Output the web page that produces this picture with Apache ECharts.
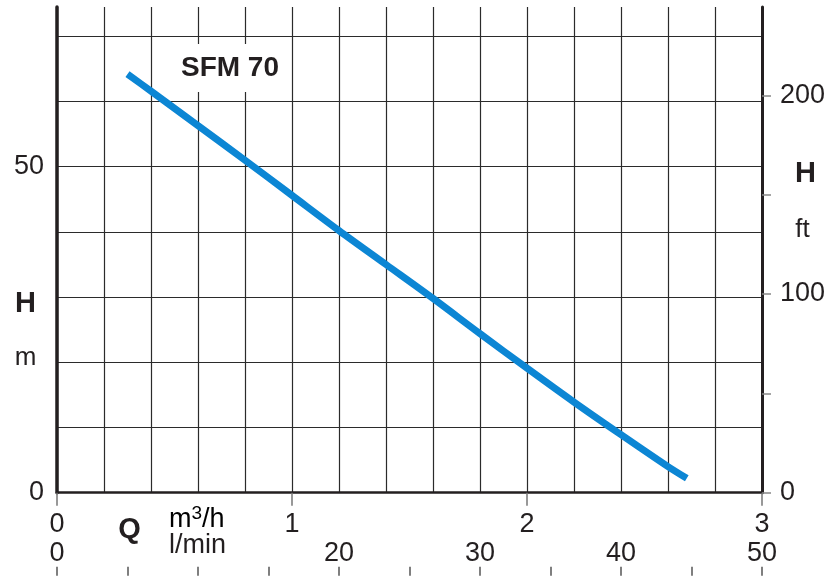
<!DOCTYPE html>
<html>
<head>
<meta charset="utf-8">
<script src="https://cdn.jsdelivr.net/npm/echarts@6/dist/echarts.min.js"></script>
<style>
html,body{margin:0;padding:0;background:#fff;}
#chart{width:830px;height:576px;}
</style>
</head>
<body>
<div id="chart"></div>
<script>
// ---- data ----
const flowM3h = [0.30, 0.40, 0.60, 0.80, 1.00, 1.20, 1.40, 1.60, 1.80, 2.00, 2.20, 2.40, 2.60, 2.68];
const headM   = [64.2, 61.6, 56.3, 51.0, 45.6, 40.2, 35.0, 29.8, 24.4, 19.1, 13.9, 8.9, 4.0, 2.2];
const seriesName = 'SFM 70';
const m3hLabels = [0, 1, 2, 3];
const lminLabels = [0, 20, 30, 40, 50];
const mLabels = [0, 50];
const ftLabels = [0, 100, 200];
const ftTicks = [0, 50, 100, 150, 200];

const H_MAX_M = 74.5;
const M_TO_FT = 3.28084;

const FONT = 'Liberation Sans, Arial, sans-serif';
const INK = '#231f20';
const GRID = '#2b2b2b';

const chart = echarts.init(document.getElementById('chart'), null, {renderer: 'canvas'});

const curve = flowM3h.map((q, i) => [q, headM[i]]);

const option = {
  animation: false,
  backgroundColor: '#fff',
  grid: {left: 57, right: 68, top: 7, bottom: 83.3, containLabel: false},
  xAxis: [
    {
      type: 'value', min: 0, max: 3, interval: 1, position: 'bottom',
      axisLine: {show: true, onZero: false, lineStyle: {color: INK, width: 2.5}},
      axisTick: {show: true, length: 13, lineStyle: {color: '#777', width: 1.5}},
      axisLabel: {
        show: true, margin: 18, fontSize: 27, color: INK, fontFamily: FONT,
        customValues: m3hLabels
      },
      splitLine: {show: true, lineStyle: {color: GRID, width: 1.2}},
      minorTick: {show: false, splitNumber: 5},
      minorSplitLine: {show: true, lineStyle: {color: GRID, width: 1.2}}
    },
    {
      type: 'value', min: 0, max: 50, interval: 5, position: 'bottom', offset: 83,
      axisLine: {show: false, onZero: false},
      axisTick: {show: true, inside: true, length: 9, lineStyle: {color: '#555', width: 1.5}},
      axisLabel: {
        show: true, inside: true, margin: 9, fontSize: 27, color: INK, fontFamily: FONT,
        customValues: lminLabels
      },
      splitLine: {show: false}
    }
  ],
  yAxis: [
    {
      type: 'value', min: 0, max: H_MAX_M, interval: 10, position: 'left',
      axisLine: {show: true, onZero: false, lineStyle: {color: INK, width: 3.5}},
      axisTick: {show: false},
      axisLabel: {
        show: true, margin: 13, fontSize: 27, color: INK, fontFamily: FONT,
        padding: [6, 0, 0, 0],
        customValues: mLabels
      },
      splitLine: {show: true, showMaxLine: false, lineStyle: {color: GRID, width: 1.2}}
    },
    {
      type: 'value', min: 0, max: H_MAX_M * M_TO_FT, position: 'right',
      axisLine: {show: true, onZero: false, lineStyle: {color: INK, width: 3}},
      axisTick: {show: true, length: 9, customValues: ftTicks, lineStyle: {color: '#888', width: 1.5}},
      axisLabel: {
        show: true, margin: 18, fontSize: 27, color: INK, fontFamily: FONT,
        padding: [4, 0, 0, 0],
        customValues: ftLabels
      },
      splitLine: {show: false}
    }
  ],
  graphic: [
    {type: 'text', x: 230, y: 68, z: 10,
     style: {text: seriesName, font: 'bold 28px ' + FONT, fill: INK, align: 'center', verticalAlign: 'middle',
             backgroundColor: '#fff', padding: [10, 10]}},
    {type: 'text', x: 25.5, y: 304, z: 10,
     style: {text: 'H', font: 'bold 29px ' + FONT, fill: INK, align: 'center', verticalAlign: 'middle'}},
    {type: 'text', x: 25.5, y: 358, z: 10,
     style: {text: 'm', font: '26px ' + FONT, fill: INK, align: 'center', verticalAlign: 'middle'}},
    {type: 'text', x: 805.5, y: 174, z: 10,
     style: {text: 'H', font: 'bold 29px ' + FONT, fill: INK, align: 'center', verticalAlign: 'middle'}},
    {type: 'text', x: 802.5, y: 230, z: 10,
     style: {text: 'ft', font: '26px ' + FONT, fill: INK, align: 'center', verticalAlign: 'middle'}},
    {type: 'text', x: 129.5, y: 530, z: 10,
     style: {text: 'Q', font: 'bold 29px ' + FONT, fill: INK, align: 'center', verticalAlign: 'middle'}},
    {type: 'text', x: 169, y: 519, z: 10,
     style: {text: '{b|m}{s|3}{b|/h}', align: 'left', verticalAlign: 'middle',
             rich: {b: {fontSize: 27, fontFamily: FONT, color: INK, verticalAlign: 'bottom'},
                    s: {fontSize: 19, fontFamily: FONT, color: INK, verticalAlign: 'top', padding: [0, 0, 10, 0]}}}},
    {type: 'text', x: 169, y: 546, z: 10,
     style: {text: 'l/min', font: '27px ' + FONT, fill: INK, align: 'left', verticalAlign: 'middle'}}
  ],
  series: [
    {
      name: seriesName, type: 'line', xAxisIndex: 0, yAxisIndex: 0,
      data: curve, showSymbol: false, symbol: 'none', smooth: 0.3,
      lineStyle: {color: '#0c86d4', width: 7, cap: 'butt'},
      z: 5
    }
  ]
};
chart.setOption(option);
</script>
</body>
</html>
